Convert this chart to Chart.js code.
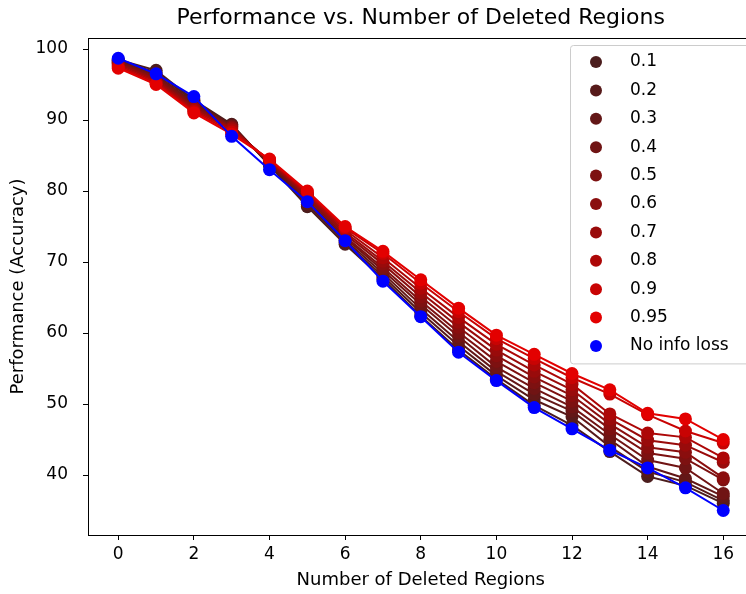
<!DOCTYPE html>
<html>
<head>
<meta charset="utf-8">
<script src="https://cdn.jsdelivr.net/npm/chart.js@4.4.1/dist/chart.umd.min.js"></script>
<style>
  body { margin: 0; background: #fff; overflow: hidden; }
  #wrap { width: 746px; height: 594px; overflow: hidden; }
</style>
</head>
<body>
<div id="wrap"><canvas id="chart" width="760" height="594"></canvas></div>
<script>
// Données
const deleted = [0, 1, 2, 3, 4, 5, 6, 7, 8, 9, 10, 11, 12, 13, 14, 15, 16];
const xTicks = [0, 2, 4, 6, 8, 10, 12, 14, 16];
const yTicks = [40, 50, 60, 70, 80, 90, 100];

const labels = ['0.1', '0.2', '0.3', '0.4', '0.5', '0.6', '0.7', '0.8', '0.9', '0.95', 'No info loss'];
const colors = ['#4b1d1d', '#571a1a', '#631717', '#701414', '#7d1111', '#8a0e0e', '#990b0b', '#ad0707', '#c80303', '#e30000', '#0000ff'];

const r01  = [98.5, 97.0, 92.8, 89.4, 83.6, 77.8, 72.5, 67.6, 62.4, 57.6, 53.5, 49.8, 47.0, 43.3, 39.8, 38.5, 36.0];
const r02  = [98.4, 96.7, 92.6, 89.3, 83.7, 78.1, 72.8, 68.0, 62.9, 58.2, 54.0, 50.6, 48.2, 44.0, 40.5, 39.0, 36.4];
const r03  = [98.3, 96.4, 92.4, 89.2, 83.8, 78.4, 73.1, 68.4, 63.4, 58.8, 54.6, 51.4, 49.0, 45.0, 41.2, 39.5, 37.0];
const r04  = [98.2, 96.2, 92.2, 89.1, 83.9, 78.7, 73.4, 68.8, 64.0, 59.5, 55.2, 52.2, 49.6, 45.7, 42.1, 41.0, 37.4];
const r05  = [98.1, 96.0, 92.0, 89.0, 84.0, 79.0, 73.6, 69.2, 64.5, 60.1, 56.0, 53.0, 50.4, 46.5, 43.1, 42.3, 39.3];
const r06  = [98.0, 95.8, 91.8, 88.9, 84.1, 79.2, 73.9, 69.7, 65.1, 60.8, 56.8, 53.8, 51.2, 47.2, 43.9, 43.2, 39.6];
const r07  = [97.9, 95.6, 91.6, 88.8, 84.2, 79.4, 74.2, 70.1, 65.7, 61.5, 57.6, 54.6, 52.0, 47.9, 44.9, 44.2, 41.8];
const r08  = [97.7, 95.4, 91.4, 88.6, 84.3, 79.6, 74.5, 70.6, 66.3, 62.2, 58.4, 55.5, 52.8, 48.6, 45.9, 45.3, 42.4];
const r09  = [97.5, 95.2, 91.2, 88.3, 84.4, 79.8, 74.8, 71.2, 67.0, 63.0, 59.2, 56.4, 53.7, 51.4, 48.5, 46.2, 44.5];
const r095 = [97.3, 95.0, 91.0, 88.0, 84.5, 80.0, 75.0, 71.5, 67.5, 63.5, 59.7, 57.0, 54.3, 52.0, 48.7, 47.9, 45.0];
const noLoss = [98.7, 96.5, 93.3, 87.7, 83.0, 78.5, 73.0, 67.3, 62.3, 57.3, 53.3, 49.5, 46.5, 43.5, 41.0, 38.2, 35.0];

const series = [r01, r02, r03, r04, r05, r06, r07, r08, r09, r095, noLoss];

const FONT = 'DejaVu Sans';
const TICK_SIZE = 17;
const LABEL_SIZE = 18;

// Construction des jeux de données
const datasets = series.map((vals, i) => ({
  label: labels[i],
  data: vals.map((v, k) => ({ x: deleted[k], y: v })),
  borderColor: colors[i],
  backgroundColor: colors[i],
  borderWidth: 2,
  pointRadius: 6.5,
  pointBorderWidth: 0,
  pointHoverRadius: 6.5,
  tension: 0,
  order: -i
}));

// Cadre, titre et légende dessinés à la main (façon matplotlib)
const decor = {
  id: 'decor',
  afterDraw(chart) {
    const ctx = chart.ctx;
    const a = chart.chartArea;
    ctx.save();
    ctx.strokeStyle = '#000';
    ctx.lineWidth = 1;
    ctx.strokeRect(a.left + 0.5, a.top + 0.5, a.right - a.left, a.bottom - a.top);

    // titre
    ctx.fillStyle = '#000';
    ctx.font = '22px "' + FONT + '"';
    ctx.textAlign = 'center';
    ctx.textBaseline = 'middle';
    ctx.fillText('Performance vs. Number of Deleted Regions', (a.left + a.right) / 2, 18);

    // légende
    const lx = 570, ly = 45, lw = 200, rowH = 28.4;
    const lh = rowH * labels.length + 6;
    ctx.fillStyle = 'rgba(255,255,255,0.8)';
    ctx.strokeStyle = '#cccccc';
    ctx.beginPath();
    ctx.roundRect(lx + 0.5, ly + 0.5, lw, lh, 3);
    ctx.fill();
    ctx.stroke();
    ctx.font = TICK_SIZE + 'px "' + FONT + '"';
    ctx.textAlign = 'left';
    labels.forEach((lab, i) => {
      const cy = ly + 17 + rowH * i;
      ctx.fillStyle = colors[i];
      ctx.beginPath();
      ctx.arc(596, cy, 6, 0, Math.PI * 2);
      ctx.fill();
      ctx.fillStyle = '#000';
      ctx.fillText(lab, 630, cy);
    });
    ctx.restore();
  }
};

new Chart(document.getElementById('chart'), {
  type: 'line',
  data: { datasets: datasets },
  plugins: [decor],
  options: {
    responsive: false,
    animation: false,
    layout: { padding: { top: 38, right: 6, left: 0, bottom: 0 } },
    plugins: {
      legend: { display: false },
      tooltip: { enabled: false }
    },
    scales: {
      x: {
        type: 'linear',
        min: -0.8,
        max: 16.8,
        afterBuildTicks: s => { s.ticks = xTicks.map(v => ({ value: v })); },
        afterFit: s => { s.height = 59; },
        grid: { drawOnChartArea: false, drawTicks: true, tickLength: 5, color: '#000' },
        border: { display: true, color: '#000' },
        ticks: { color: '#000', font: { family: FONT, size: TICK_SIZE }, padding: 4, maxRotation: 0 },
        title: { display: true, text: 'Number of Deleted Regions', color: '#000', font: { family: FONT, size: LABEL_SIZE }, padding: { top: 0, bottom: 3 } }
      },
      y: {
        type: 'linear',
        min: 31.55,
        max: 101.55,
        afterBuildTicks: s => { s.ticks = yTicks.map(v => ({ value: v })); },
        afterFit: s => { s.width = 88; },
        grid: { drawOnChartArea: false, drawTicks: true, tickLength: 5, color: '#000' },
        border: { display: true, color: '#000' },
        ticks: { color: '#000', font: { family: FONT, size: TICK_SIZE }, padding: 15 },
        title: { display: true, text: 'Performance (Accuracy)', color: '#000', font: { family: FONT, size: LABEL_SIZE }, padding: { top: 8, bottom: 0 } }
      }
    }
  }
});
</script>
</body>
</html>
